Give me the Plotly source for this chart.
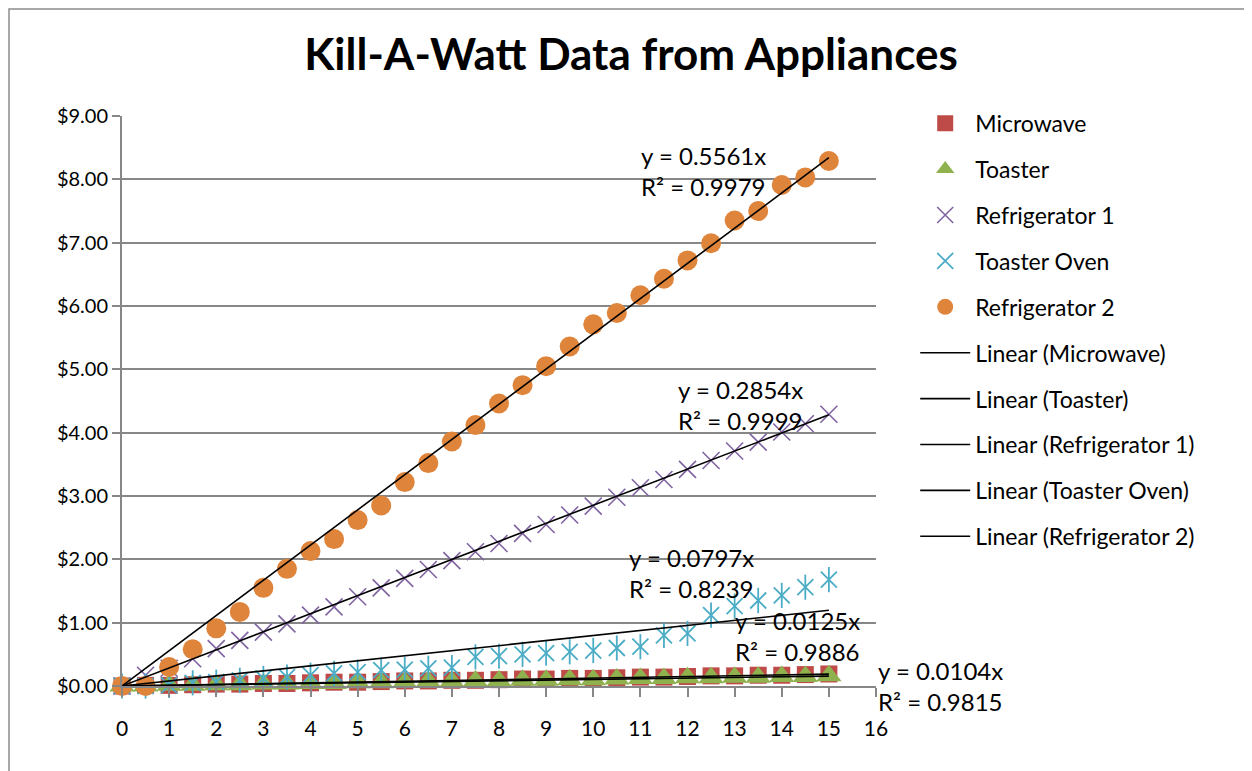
import plotly.graph_objects as go

hours = [0, 0.5, 1, 1.5, 2, 2.5, 3, 3.5, 4, 4.5, 5, 5.5, 6, 6.5, 7, 7.5,
         8, 8.5, 9, 9.5, 10, 10.5, 11, 11.5, 12, 12.5, 13, 13.5, 14, 14.5, 15]

microwave = [0, 0.01, 0.01, 0.02, 0.03, 0.03, 0.04, 0.04, 0.05, 0.06, 0.06, 0.07, 0.08, 0.08, 0.09, 0.09,
             0.10, 0.11, 0.11, 0.12, 0.12, 0.13, 0.14, 0.14, 0.15, 0.16, 0.16, 0.17, 0.17, 0.18, 0.19]
toaster = [0, 0.00, 0.01, 0.01, 0.02, 0.02, 0.03, 0.03, 0.04, 0.04, 0.05, 0.05, 0.06, 0.07, 0.07, 0.08,
           0.08, 0.09, 0.09, 0.10, 0.10, 0.11, 0.12, 0.12, 0.13, 0.13, 0.14, 0.14, 0.15, 0.15, 0.16]
refrigerator1 = [0, 0.17, 0.28, 0.43, 0.59, 0.72, 0.85, 0.98, 1.12, 1.25, 1.41, 1.55, 1.70, 1.84, 1.98, 2.12,
                 2.25, 2.41, 2.55, 2.70, 2.84, 2.98, 3.13, 3.26, 3.42, 3.56, 3.71, 3.85, 4.01, 4.14, 4.29]
toaster_oven = [0, 0, 0.01, 0.05, 0.06, 0.09, 0.12, 0.14, 0.17, 0.20, 0.22, 0.25, 0.26, 0.28, 0.29, 0.46,
                0.47, 0.50, 0.52, 0.54, 0.56, 0.60, 0.62, 0.80, 0.83, 1.12, 1.26, 1.35, 1.43, 1.56, 1.68]
refrigerator2 = [0, 0, 0.30, 0.58, 0.91, 1.17, 1.55, 1.85, 2.13, 2.32, 2.62, 2.85, 3.22, 3.52, 3.86, 4.12,
                 4.46, 4.75, 5.05, 5.36, 5.71, 5.89, 6.17, 6.43, 6.72, 6.99, 7.35, 7.50, 7.91, 8.03, 8.29]

series_names = ["Microwave", "Toaster", "Refrigerator 1", "Toaster Oven", "Refrigerator 2"]
slopes = [0.0125, 0.0104, 0.2854, 0.0797, 0.5561]
r_squared = [0.9886, 0.9815, 0.9999, 0.8239, 0.9979]
# label anchor positions (in x/y data units) for the trendline equations
label_x = [14.34, 17.37, 13.13, 12.08, 12.33]
label_y = [0.79, -0.005, 4.43, 1.79, 8.135]

X_RANGE = [0, 16]
Y_RANGE = [0, 9]
x_ticks = list(range(0, 17))
y_ticks = list(range(0, 10))
y_tick_text = [f"${v:.2f}" for v in y_ticks]

FONT = "Lato"
GRID = "#878787"

fig = go.Figure()

fig.add_trace(go.Scatter(
    x=hours, y=microwave, name="Microwave", mode="markers", legendgroup="g1",
    marker=dict(symbol="square", size=17, color="#BE4B48"), cliponaxis=False))
fig.add_trace(go.Scatter(
    x=hours, y=toaster, name="Toaster", mode="markers", legendgroup="g2",
    marker=dict(symbol="triangle-up", size=22, color="#8FB14E"), cliponaxis=False))
fig.add_trace(go.Scatter(
    x=hours, y=refrigerator1, name="Refrigerator 1", mode="markers", legendgroup="g3",
    marker=dict(symbol="x-thin-open", size=17, color="#8064A2", line=dict(color="#8064A2", width=1.6)),
    cliponaxis=False))
fig.add_trace(go.Scatter(
    x=hours, y=toaster_oven, name="Toaster Oven", mode="markers", legendgroup="g4",
    marker=dict(symbol="x-thin-open", size=16, color="#4BACC6", line=dict(color="#4BACC6", width=1.8)),
    cliponaxis=False))
fig.add_trace(go.Scatter(
    x=hours, y=toaster_oven, name="Toaster Oven", mode="markers", legendgroup="g4", showlegend=False,
    marker=dict(symbol="line-ns-open", size=18, color="#4BACC6", line=dict(color="#4BACC6", width=1.8)),
    cliponaxis=False))
fig.add_trace(go.Scatter(
    x=hours, y=refrigerator2, name="Refrigerator 2", mode="markers", legendgroup="g5",
    marker=dict(symbol="circle", size=20, color="#DE843B"), cliponaxis=False))

x_end = [hours[0], hours[-1]]
for i, (name, m) in enumerate(zip(series_names, slopes)):
    fig.add_trace(go.Scatter(
        x=x_end, y=[m * x_end[0], m * x_end[1]], name=f"Linear ({name})", mode="lines",
        legendgroup=f"t{i}", line=dict(color="black", width=1.6), cliponaxis=False))

# annotations placed in paper units so that labels outside the axis range still show
for m, r2, lx, ly in zip(slopes, r_squared, label_x, label_y):
    fig.add_annotation(
        x=(lx - X_RANGE[0]) / (X_RANGE[1] - X_RANGE[0]),
        y=(ly - Y_RANGE[0]) / (Y_RANGE[1] - Y_RANGE[0]),
        xref="paper", yref="paper", xanchor="center", yanchor="middle",
        showarrow=False, align="left",
        text=f"y = {m:.4f}x<br>R² = {r2:.4f}",
        font=dict(family=FONT, size=24, color="black"))

# plot-area geometry in figure pixels (page is offset by the 8px body margin)
L, T, W, H = 114, 108, 754, 570

# chart-area border (left and top visible)
fig.add_shape(type="rect", xref="paper", yref="paper",
              x0=(1 - L) / W, x1=(1262 - L) / W,
              y0=-(800 - T - H) / H, y1=1 + (T - 1) / H,
              line=dict(color="#8C8C8C", width=1.5), fillcolor="rgba(0,0,0,0)", layer="below")

fig.update_layout(
    width=1252, height=771,
    paper_bgcolor="white", plot_bgcolor="white",
    margin=dict(l=L, r=1252 - L - W, t=T, b=771 - T - H),
    title=dict(text="<b>Kill-A-Watt Data from Appliances</b>", x=623 / 1252, xanchor="center",
               y=1 - 47 / 771, yanchor="middle",
               font=dict(family=FONT, size=44, color="black")),
    font=dict(family=FONT, color="black"),
    legend=dict(x=1.052, y=1.025, xanchor="left", yanchor="top",
                font=dict(family=FONT, size=23, color="black"),
                tracegroupgap=13, itemwidth=50, bgcolor="rgba(0,0,0,0)", maxheight=620),
    xaxis=dict(range=X_RANGE, tickvals=x_ticks, ticks="outside", ticklen=9, tickcolor=GRID, tickwidth=1.5,
               showline=True, linecolor=GRID, linewidth=1.5, showgrid=False, zeroline=False,
               ticklabelstandoff=14,
               tickfont=dict(family=FONT, size=21, color="black")),
    yaxis=dict(range=Y_RANGE, tickmode="array", tickvals=y_ticks, ticktext=y_tick_text,
               ticks="outside", ticklen=8, tickcolor=GRID, tickwidth=1.5,
               showline=True, linecolor=GRID, linewidth=2, showgrid=True, gridcolor=GRID, gridwidth=1.5,
               zeroline=False, tickfont=dict(family=FONT, size=20, color="black")),
)

fig.write_html("out.html")
